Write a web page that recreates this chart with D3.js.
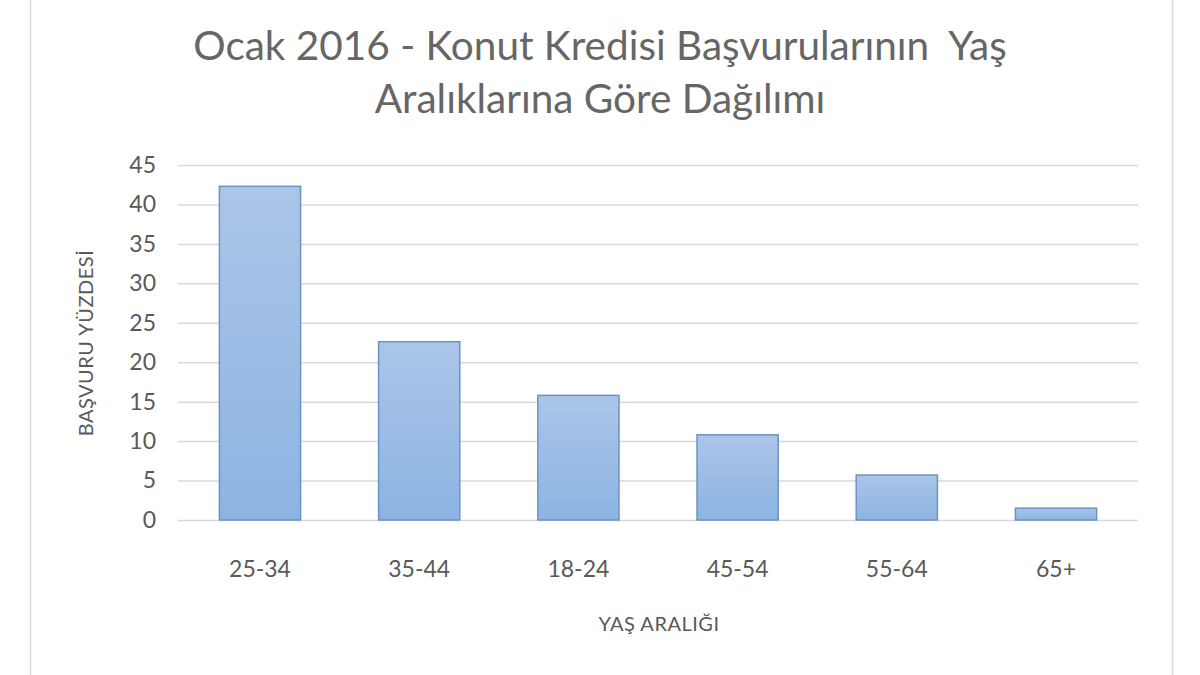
<!DOCTYPE html>
<html>
<head>
<meta charset="utf-8">
<script src="https://cdn.jsdelivr.net/npm/d3@7"></script>
<style>
  body { margin: 0; background: #fff; }
  svg text { font-family: Lato, "Open Sans", sans-serif; fill: #595959; }
</style>
</head>
<body>
<svg id="chart" width="1200" height="675"></svg>
<script>
// data
const ageGroups = ["25-34", "35-44", "18-24", "45-54", "55-64", "65+"]
const percents = [42.3, 22.6, 15.8, 10.8, 5.7, 1.5]
const yTicks = [0, 5, 10, 15, 20, 25, 30, 35, 40, 45]
const titleLines = ["Ocak 2016 - Konut Kredisi Başvurularının  Yaş", "Aralıklarına Göre Dağılımı"]

const svg = d3.select("#chart")

// chart frame (only the side borders show)
svg.append("line").attr("x1", 30.5).attr("x2", 30.5).attr("y1", 0).attr("y2", 675)
   .attr("stroke", "#d9d9d9").attr("stroke-width", 1.5)
svg.append("line").attr("x1", 1172.5).attr("x2", 1172.5).attr("y1", 0).attr("y2", 675)
   .attr("stroke", "#d9d9d9").attr("stroke-width", 1.5)

const plotLeft = 178, plotRight = 1138, plotTop = 165, plotBottom = 520

const x = d3.scaleBand().domain(ageGroups).range([plotLeft, plotRight]).paddingInner(0.49).paddingOuter(0.26)
const y = d3.scaleLinear().domain([0, 45]).range([plotBottom, plotTop])

// gradient for the bars
const grad = svg.append("defs").append("linearGradient")
    .attr("id", "barGrad").attr("x1", 0).attr("y1", 0).attr("x2", 0).attr("y2", 1)
grad.append("stop").attr("offset", "0%").attr("stop-color", "#abc5e8")
grad.append("stop").attr("offset", "100%").attr("stop-color", "#8cb4e3")

//----------------grid
svg.append("g").selectAll("line").data(yTicks).join("line")
   .attr("x1", plotLeft).attr("x2", plotRight)
   .attr("y1", d => y(d) + 0.5).attr("y2", d => y(d) + 0.5)
   .attr("stroke", "#d9d9d9").attr("stroke-width", 1.5)

//----------------y axis labels
const yAxis = svg.append("g").attr("transform", "translate(" + (plotLeft - 8) + ",0)")
    .call(d3.axisLeft(y).tickValues(yTicks).tickSize(0).tickPadding(14))
yAxis.select(".domain").remove()
yAxis.selectAll("text").attr("font-size", 23).attr("fill", "#5f5f5f")
     .style("font-family", "Lato, sans-serif")

//----------------x axis labels
const xAxis = svg.append("g").attr("transform", "translate(0," + plotBottom + ")")
    .call(d3.axisBottom(x).tickSize(0).tickPadding(41))
xAxis.select(".domain").remove()
xAxis.selectAll("text").attr("font-size", 23).attr("fill", "#5f5f5f")
     .style("font-family", "Lato, sans-serif")

//----------------bars
svg.append("g").selectAll("rect").data(percents).join("rect")
   .attr("x", (d, i) => x(ageGroups[i]))
   .attr("y", d => y(d))
   .attr("width", x.bandwidth())
   .attr("height", d => plotBottom - y(d))
   .attr("fill", "url(#barGrad)")
   .attr("stroke", "#6d93c4")
   .attr("stroke-width", 1.5)

//----------------titles
svg.append("text").attr("text-anchor", "middle").attr("font-size", 40.5)
   .attr("fill", "#666").style("fill", "#666")
   .style("white-space", "pre")
   .selectAll("tspan").data(titleLines).join("tspan")
   .attr("x", 600).attr("y", (d, i) => 60 + i * 53)
   .text(d => d)

svg.append("text").attr("x", 659).attr("y", 631).attr("text-anchor", "middle")
   .attr("font-size", 20).attr("letter-spacing", 0.5).text("YAŞ ARALIĞI")

svg.append("text").attr("transform", "translate(93,343) rotate(-90)")
   .attr("text-anchor", "middle").attr("font-size", 20).attr("letter-spacing", 0.5)
   .text("BAŞVURU YÜZDESİ")
</script>
</body>
</html>
